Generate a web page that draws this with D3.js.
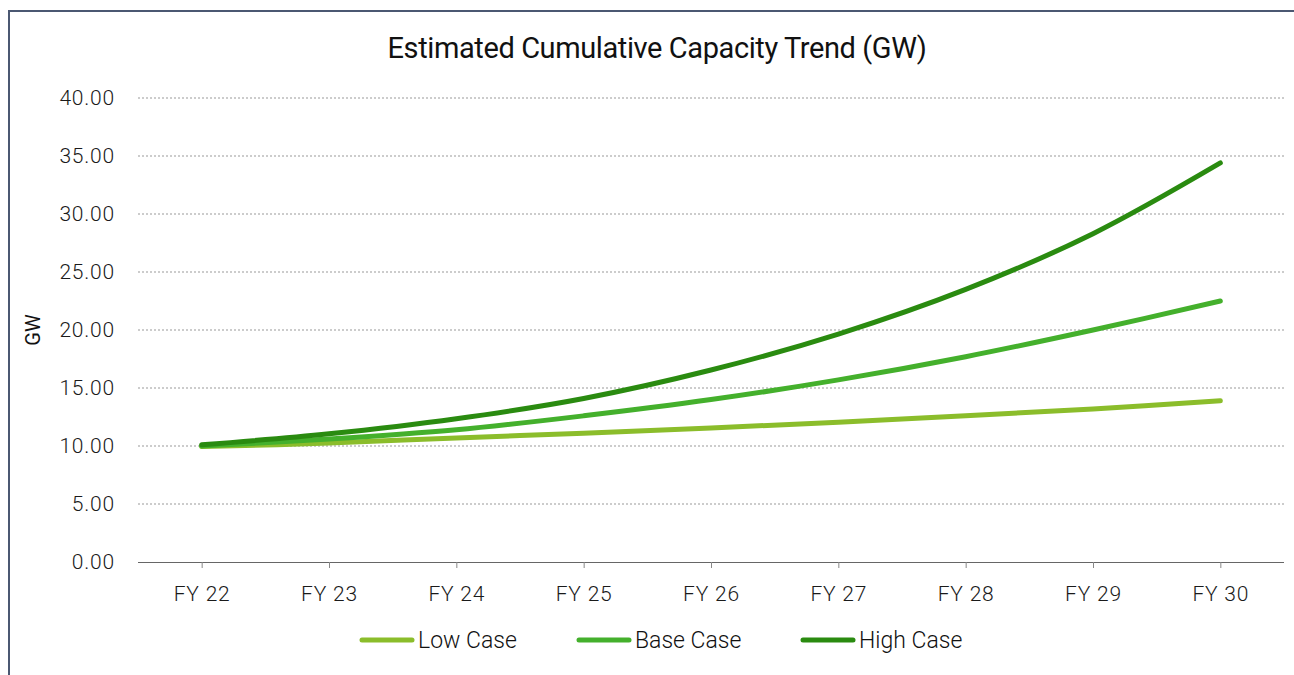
<html>
<head>
<script src="https://d3js.org/d3.v7.min.js"></script>
<style>
    body {margin: 0; background: #fff;}
    text {font-family: Roboto, sans-serif; fill: #222;}
    .grid line {stroke: #999; stroke-dasharray: 2,2; stroke-width: 1;}
</style>
</head>
<body>
<svg width="1294" height="675"></svg>
<script>
// chart data
const years = ['FY 22','FY 23','FY 24','FY 25','FY 26','FY 27','FY 28','FY 29','FY 30'];
const lowCase  = [9.95, 10.25, 10.7, 11.1, 11.55, 12.05, 12.6, 13.2, 13.9];
const baseCase = [10.0, 10.6, 11.4, 12.6, 14.0, 15.7, 17.7, 20.0, 22.5];
const highCase = [10.1, 11.05, 12.35, 14.1, 16.55, 19.65, 23.5, 28.3, 34.4];
const yTicks = [0, 5, 10, 15, 20, 25, 30, 35, 40];
const seriesNames = ['Low Case', 'Base Case', 'High Case'];
const colors = ['#8bbd2b', '#44b02c', '#2a8b10'];

const series = [lowCase, baseCase, highCase].map((v, i) => ({name: seriesNames[i], values: v, color: colors[i]}));

const svg = d3.select('svg');

// outer frame (left and top edges visible)
svg.append('path')
    .attr('d', 'M9,675 L9,11 L1294,11')
    .attr('fill', 'none')
    .attr('stroke', '#4b5872')
    .attr('stroke-width', 2);

const x = d3.scalePoint().domain(years).range([138, 1284]).padding(0.5);
const y = d3.scaleLinear().domain([0, 40]).range([562, 98]);

// title
svg.append('text')
    .attr('x', 657).attr('y', 58)
    .attr('text-anchor', 'middle')
    .style('font-size', '29px')
    .style('font-weight', 400)
    .style('letter-spacing', '-0.4px')
    .style('fill', '#111')
    .text('Estimated Cumulative Capacity Trend (GW)');

// gridlines
svg.append('g').attr('class', 'grid')
    .selectAll('line')
    .data(yTicks.filter(d => d > 0))
    .enter().append('line')
    .attr('x1', 138).attr('x2', 1284)
    .attr('y1', d => y(d)).attr('y2', d => y(d));

// y axis labels
const yAxis = svg.append('g')
    .attr('transform', 'translate(138,0)')
    .call(d3.axisLeft(y).tickValues(yTicks).tickFormat(d3.format('.2f')).tickSize(0).tickPadding(23));
yAxis.select('.domain').remove();
yAxis.selectAll('text').style('font-size', '21px').style('font-weight', 300)
    .style('letter-spacing', '0.8px').style('fill', '#1a1a1a');

// x axis
const xAxis = svg.append('g')
    .attr('transform', 'translate(0,562)')
    .call(d3.axisBottom(x).tickSizeInner(6).tickSizeOuter(0).tickPadding(18));
xAxis.select('.domain').attr('stroke', '#666').attr('d', 'M138,0.5H1284');
xAxis.selectAll('.tick line').attr('stroke', '#888');
xAxis.selectAll('text').style('font-size', '21px').style('font-weight', 300)
    .style('letter-spacing', '0.8px').style('fill', '#1a1a1a');

// y axis title
svg.append('text')
    .attr('transform', 'translate(40,330) rotate(-90)')
    .attr('text-anchor', 'middle')
    .style('font-size', '20px')
    .style('font-weight', 400)
    .style('fill', '#111')
    .text('GW');

// lines
const line = d3.line()
    .x((d, i) => x(years[i]))
    .y(d => y(d))
    .curve(d3.curveCatmullRom.alpha(0.5));

svg.append('g').selectAll('path')
    .data(series)
    .enter().append('path')
    .attr('d', d => line(d.values))
    .attr('fill', 'none')
    .attr('stroke', d => d.color)
    .attr('stroke-width', 5)
    .attr('stroke-linecap', 'round')
    .attr('stroke-linejoin', 'round');

// legend
const legendX = [360, 577, 801];
const legend = svg.append('g').selectAll('g')
    .data(series)
    .enter().append('g')
    .attr('transform', (d, i) => 'translate(' + legendX[i] + ',640)');
legend.append('line')
    .attr('x1', 2).attr('x2', 52)
    .attr('stroke', d => d.color)
    .attr('stroke-width', 5)
    .attr('stroke-linecap', 'round');
legend.append('text')
    .attr('x', 58).attr('dy', '0.35em')
    .style('font-size', '23px')
    .style('font-weight', 300)
    .style('fill', '#111')
    .text(d => d.name);
</script>
</body>
</html>
